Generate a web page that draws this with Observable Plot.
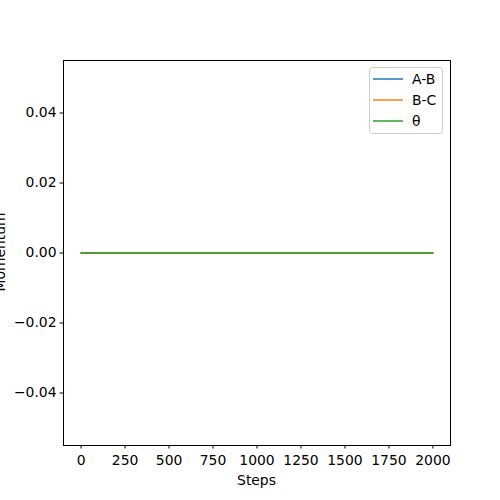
<!DOCTYPE html>
<html>
<head>
<meta charset="utf-8">
<script src="https://cdn.jsdelivr.net/npm/d3@7"></script>
<script src="https://cdn.jsdelivr.net/npm/@observablehq/plot@0.6"></script>
<style>
  body { margin: 0; background: #fff; }
  #chart { position: relative; width: 500px; height: 500px; }
</style>
</head>
<body>
<div id="chart"></div>
<script>
const steps = [0, 250, 500, 750, 1000, 1250, 1500, 1750, 2000];
const abValues = [0, 0, 0, 0, 0, 0, 0, 0, 0];
const bcValues = [0, 0, 0, 0, 0, 0, 0, 0, 0];
const thetaValues = [0, 0, 0, 0, 0, 0, 0, 0, 0];
const seriesNames = ["A-B", "B-C", "θ"];
const seriesColors = ["#1f77b4", "#ff7f0e", "#2ca02c"];
const xTicks = [0, 250, 500, 750, 1000, 1250, 1500, 1750, 2000];
const yTicks = [-0.04, -0.02, 0, 0.02, 0.04];

const allSeries = [abValues, bcValues, thetaValues];
const rows = [];
allSeries.forEach((vals, si) => {
  steps.forEach((s, i) => rows.push({step: s, value: vals[i], series: seriesNames[si]}));
});

const font = "DejaVu Sans, sans-serif";
const fs = 13.9;

const plot = Plot.plot({
  width: 500,
  height: 500,
  marginLeft: 63,
  marginRight: 50,
  marginTop: 60,
  marginBottom: 55,
  style: {fontFamily: font, fontSize: fs + "px", background: "#fff", color: "#000"},
  x: {domain: [-100, 2100]},
  y: {domain: [-0.055, 0.055]},
  color: {domain: seriesNames, range: seriesColors},
  marks: [
    Plot.line(rows, {x: "step", y: "value", z: "series", stroke: "series", strokeWidth: 1.5}),
    Plot.frame({stroke: "#000", strokeWidth: 1}),
    Plot.axisX({ticks: xTicks, tickSize: 3.5, tickPadding: 6.5, tickFormat: d3.format("d"), label: null, fontSize: fs}),
    Plot.axisY({ticks: yTicks, tickSize: 3.5, tickPadding: 3.5, tickFormat: d3.format(".2f"), label: null, fontSize: fs})
  ]
});

const svg = d3.select(plot);
svg.append("text").attr("x", 256.5).attr("y", 485).attr("text-anchor", "middle")
  .attr("font-family", font).attr("font-size", fs).attr("fill", "#000").text("Steps");
svg.append("text").attr("transform", "translate(5,252) rotate(-90)").attr("text-anchor", "middle")
  .attr("font-family", font).attr("font-size", fs).attr("fill", "#000").text("Momentum");

const lg = svg.append("g");
lg.append("rect").attr("x", 369.5).attr("y", 67.5).attr("width", 73).attr("height", 66).attr("rx", 3)
  .attr("fill", "#fff").attr("fill-opacity", 0.8).attr("stroke", "#ccc").attr("stroke-width", 1);
seriesNames.forEach((n, i) => {
  const yy = 79 + i * 21;
  lg.append("line").attr("x1", 373).attr("x2", 403).attr("y1", yy).attr("y2", yy)
    .attr("stroke", seriesColors[i]).attr("stroke-width", 1.5);
  lg.append("text").attr("x", 412).attr("y", yy + 5).attr("text-anchor", "start")
    .attr("font-family", font).attr("font-size", fs).attr("fill", "#000").text(n);
});

document.getElementById("chart").appendChild(plot);
</script>
</body>
</html>
